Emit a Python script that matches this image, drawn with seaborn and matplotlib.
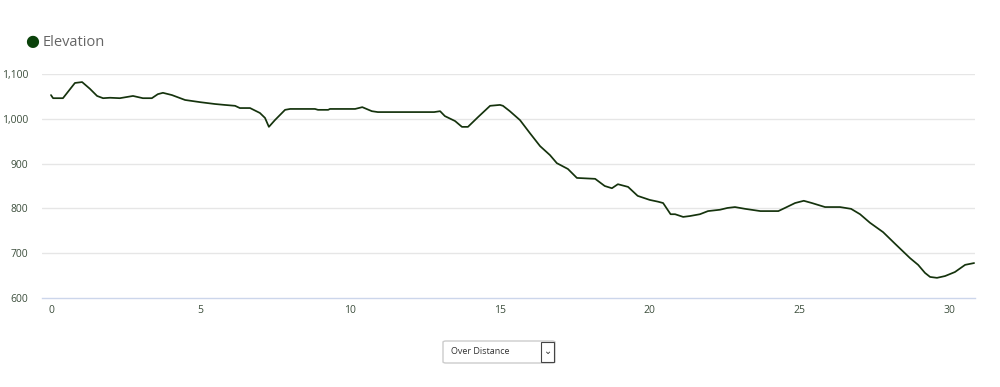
import matplotlib
matplotlib.use("Agg")
import matplotlib.pyplot as plt
import seaborn as sns
import pandas as pd
from matplotlib.patches import FancyBboxPatch

distance_km = [0.0, 0.07, 0.4, 0.8, 1.04, 1.3, 1.54, 1.74, 1.97, 2.3, 2.74, 3.07, 3.37, 3.57, 3.74,
               4.04, 4.48, 5.0, 5.48, 5.8, 6.15, 6.31, 6.65, 6.98, 7.15, 7.28, 7.48, 7.82, 7.99,
               8.82, 8.92, 9.26, 9.32, 10.16, 10.4, 10.72, 10.92, 12.8, 13.0, 13.16, 13.5, 13.73,
               13.93, 14.27, 14.67, 15.0, 15.1, 15.33, 15.67, 16.0, 16.34, 16.67, 16.9, 17.27,
               17.57, 18.18, 18.5, 18.74, 18.94, 19.28, 19.6, 20.0, 20.28, 20.45, 20.7, 20.85,
               21.12, 21.35, 21.68, 21.95, 22.35, 22.6, 22.85, 23.19, 23.7, 24.3, 24.52, 24.86,
               25.15, 25.42, 25.86, 26.36, 26.73, 27.03, 27.36, 27.8, 28.2, 28.7, 28.97, 29.2,
               29.37, 29.6, 29.87, 30.2, 30.54, 30.84]
elevation_m = [1053, 1046, 1046, 1080, 1082, 1067, 1051, 1046, 1047, 1046, 1051, 1046, 1046, 1055, 1058,
               1053, 1042, 1037, 1033, 1031, 1029, 1024, 1024, 1013, 1002, 982, 997, 1020, 1022,
               1022, 1020, 1020, 1022, 1022, 1026, 1017, 1015, 1015, 1017, 1006, 995, 982,
               982, 1004, 1029, 1031, 1029, 1017, 997, 968, 939, 919, 901, 888,
               868, 866, 850, 845, 854, 848, 828, 819, 815, 812, 787, 787,
               781, 783, 787, 794, 797, 801, 803, 799, 794, 794, 801, 812,
               817, 812, 803, 803, 799, 787, 768, 747, 721, 689, 674, 656,
               647, 645, 649, 658, 674, 678]
y_ticks = [600, 700, 800, 900, 1000, 1100]
y_tick_labels = ["600", "700", "800", "900", "1,000", "1,100"]
x_ticks = [0, 5, 10, 15, 20, 25, 30]
series_name = "Elevation"
selector_label = "Over Distance"

df = pd.DataFrame({"distance": distance_km, "elevation": elevation_m})

sns.set_theme(style="white")
plt.rcParams['font.family'] = ['Open Sans', 'DejaVu Sans']

fig = plt.figure(figsize=(10, 3.87), dpi=100)
ax = fig.add_axes([0.042, 1 - 298 / 387, 0.933, (298 - 74) / 387])

line_color = "#15330d"
sns.lineplot(data=df, x="distance", y="elevation", ax=ax, color=line_color, linewidth=1.25)

ax.set_xlim(-0.3, 30.87)
ax.set_ylim(600, 1100)
ax.set_yticks(y_ticks)
ax.set_yticklabels(y_tick_labels)
ax.set_xticks(x_ticks)
ax.set_xlabel("")
ax.set_ylabel("")
for y in y_ticks[1:]:
    ax.axhline(y, color="#e6e6e6", linewidth=1, zorder=0)
for s in ["top", "right", "left"]:
    ax.spines[s].set_visible(False)
ax.spines["bottom"].set_color("#ccd6eb")
ax.spines["bottom"].set_linewidth(1)
ax.tick_params(axis="y", length=0, pad=10, labelsize=7.5, labelcolor="#3d4f3d")
ax.tick_params(axis="x", length=0, pad=5, labelsize=7.5, labelcolor="#3d4f3d")

# legend
fig.text(0.0325, 1 - 42 / 387, "\u25cf", color="#0b420b", fontsize=11.5, ha="center", va="center",
         family=["DejaVu Sans"])
fig.text(0.0425, 1 - 42 / 387, series_name, color="#666666", fontsize=10.5, ha="left", va="center")

# selector
box = FancyBboxPatch((443 / 1000, 1 - 363 / 387), 112 / 1000, 22 / 387,
                     boxstyle="round,pad=0,rounding_size=0.003", transform=fig.transFigure,
                     facecolor="white", edgecolor="#cccccc", linewidth=1)
fig.patches.append(box)
fig.patches.append(FancyBboxPatch((541 / 1000, 1 - 362 / 387), 13 / 1000, 20 / 387,
                                  boxstyle="square,pad=0", transform=fig.transFigure,
                                  facecolor="white", edgecolor="#444444", linewidth=0.8))
fig.text(451 / 1000, 1 - 352 / 387, selector_label, fontsize=6.5, color="#333333",
         ha="left", va="center")
fig.text(548 / 1000, 1 - 351 / 387, "\u2304", fontsize=7, color="#333333",
         ha="center", va="center", family=["DejaVu Sans"])

fig.savefig("out.png", dpi=100, facecolor="white")
